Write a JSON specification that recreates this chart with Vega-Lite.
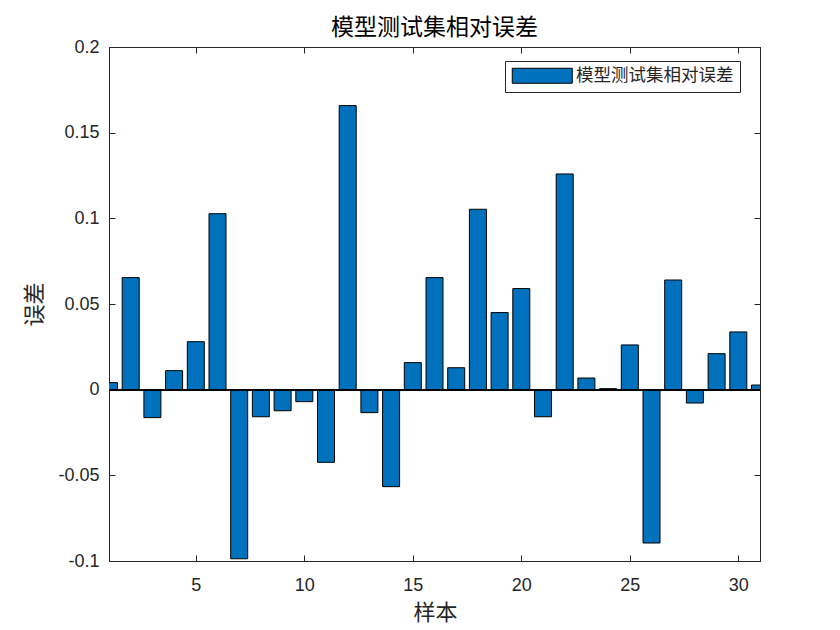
{
  "$schema": "https://vega.github.io/schema/vega-lite/v6.json",
  "autosize": "none",
  "width": 651,
  "height": 514,
  "padding": {"left": 109, "top": 47, "right": 80, "bottom": 69},
  "background": "white",
  "title": {
    "text": "模型测试集相对误差",
    "font": "Noto Sans CJK SC",
    "fontSize": 23,
    "fontWeight": "normal",
    "color": "#000000",
    "offset": -2
  },
  "config": {
    "view": {"stroke": "#262626", "strokeWidth": 1},
    "axis": {
      "grid": false,
      "domainColor": "#262626",
      "tickColor": "#262626",
      "labelColor": "#262626",
      "labelFont": "Liberation Sans",
      "labelFontSize": 18,
      "titleFont": "Noto Sans CJK SC",
      "titleFontSize": 22,
      "titleFontWeight": "normal",
      "titleColor": "#262626",
      "tickSize": -6
    },
    "legend": {
      "orient": "none",
      "legendX": 396,
      "legendY": 14,
      "fillColor": "white",
      "strokeColor": "#262626",
      "padding": 6,
      "symbolType": "M-4,-1H4V1H-4Z",
      "symbolSize": 225,
      "symbolOffset": 22.5,
      "symbolStrokeColor": "#000000",
      "symbolStrokeWidth": 1,
      "symbolOpacity": 1,
      "labelFont": "Noto Sans CJK SC",
      "labelFontSize": 17.5,
      "labelColor": "#262626",
      "labelOffset": 25,
      "title": null
    }
  },
  "data": {
    "values": [
      {"sample": 1, "error": 0.0041},
      {"sample": 2, "error": 0.0654},
      {"sample": 3, "error": -0.0163},
      {"sample": 4, "error": 0.0111},
      {"sample": 5, "error": 0.028},
      {"sample": 6, "error": 0.1027},
      {"sample": 7, "error": -0.0987},
      {"sample": 8, "error": -0.0158},
      {"sample": 9, "error": -0.0123},
      {"sample": 10, "error": -0.007},
      {"sample": 11, "error": -0.0424},
      {"sample": 12, "error": 0.1658},
      {"sample": 13, "error": -0.0134},
      {"sample": 14, "error": -0.0566},
      {"sample": 15, "error": 0.0158},
      {"sample": 16, "error": 0.0654},
      {"sample": 17, "error": 0.0128},
      {"sample": 18, "error": 0.1053},
      {"sample": 19, "error": 0.045},
      {"sample": 20, "error": 0.059},
      {"sample": 21, "error": -0.0158},
      {"sample": 22, "error": 0.1259},
      {"sample": 23, "error": 0.0068},
      {"sample": 24, "error": 0.0006},
      {"sample": 25, "error": 0.0261},
      {"sample": 26, "error": -0.0895},
      {"sample": 27, "error": 0.064},
      {"sample": 28, "error": -0.0078},
      {"sample": 29, "error": 0.021},
      {"sample": 30, "error": 0.0337},
      {"sample": 31, "error": 0.0027}
    ]
  },
  "resolve": {"axis": {"x": "independent", "y": "independent"}},
  "layer": [
    {
      "mark": {"type": "bar", "size": 17, "stroke": "#000000", "strokeWidth": 1, "clip": true, "opacity": 1},
      "encoding": {
        "x": {
          "field": "sample",
          "type": "quantitative",
          "scale": {"domain": [1, 31], "nice": false, "zero": false, "padding": 0},
          "axis": {
            "orient": "bottom",
            "values": [5, 10, 15, 20, 25, 30],
            "title": "样本",
            "labelPadding": 21,
            "titleX": 326,
            "titleY": 51,
            "titleBaseline": "middle",
            "titleAlign": "center"
          }
        },
        "y": {
          "field": "error",
          "type": "quantitative",
          "scale": {"domain": [-0.1, 0.2], "nice": false, "zero": false, "padding": 0},
          "axis": {
            "orient": "left",
            "values": [-0.1, -0.05, 0, 0.05, 0.1, 0.15, 0.2],
            "labelExpr": "'' + datum.value",
            "title": "误差",
            "labelPadding": 16,
            "titleX": -75,
            "titleY": 257,
            "titleAngle": -90,
            "titleBaseline": "middle",
            "titleAlign": "center"
          }
        },
        "color": {
          "datum": "模型测试集相对误差",
          "type": "nominal",
          "scale": {"range": ["#0072BD"]},
          "legend": {"title": null}
        }
      }
    },
    {
      "mark": {"type": "bar", "size": 17, "opacity": 0, "clip": true},
      "encoding": {
        "x": {
          "field": "sample",
          "type": "quantitative",
          "scale": {"domain": [1, 31], "nice": false, "zero": false, "padding": 0},
          "axis": {"orient": "top", "values": [5, 10, 15, 20, 25, 30], "labels": false, "title": null}
        },
        "y": {
          "field": "error",
          "type": "quantitative",
          "scale": {"domain": [-0.1, 0.2], "nice": false, "zero": false, "padding": 0},
          "axis": {"orient": "right", "values": [-0.1, -0.05, 0, 0.05, 0.1, 0.15, 0.2], "labels": false, "title": null}
        }
      }
    },
    {
      "mark": {"type": "rule", "color": "#000000", "strokeWidth": 1},
      "encoding": {"y": {"datum": 0, "type": "quantitative", "axis": null}}
    }
  ]
}
